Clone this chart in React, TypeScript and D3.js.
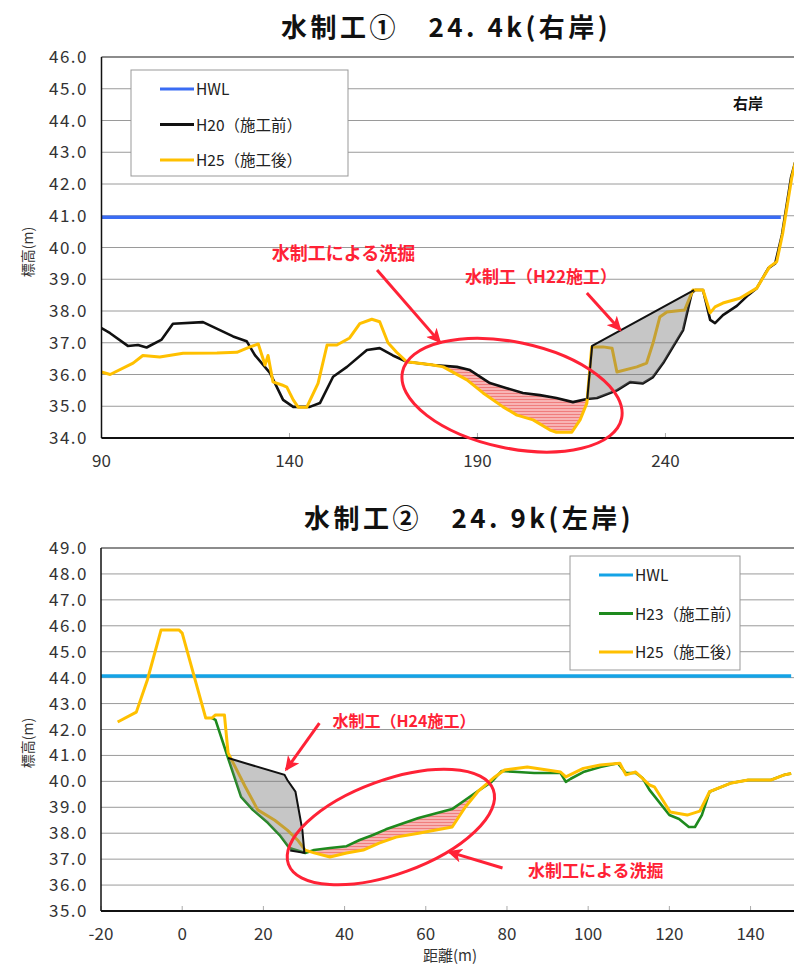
import React from "react";
import * as d3 from "d3";

// ---------- Chart 1 data (水制工① 24.4k 右岸) ----------
const topXTicks = [90, 140, 190, 240];
const topYTicks = [34, 35, 36, 37, 38, 39, 40, 41, 42, 43, 44, 45, 46];
const topHWL: [number, number][] = [[90, 40.95], [270.7, 40.95]];
const topH20: [number, number][] = [
  [90, 37.46], [92.3, 37.3], [97, 36.9], [99.7, 36.93], [102, 36.85], [106, 37.1], [109, 37.6],
  [117, 37.65], [125, 37.2], [128.6, 37.05], [130.8, 36.61], [134.8, 36.05], [138.3, 35.2],
  [141, 34.98], [145.4, 34.98], [148.1, 35.1], [151.6, 35.93], [155.3, 36.24], [160.6, 36.77],
  [164, 36.83], [167.5, 36.6], [171.2, 36.4], [178.2, 36.3], [184.5, 36.24], [188, 36.14],
  [193.3, 35.73], [197.8, 35.57], [202.1, 35.42], [206.6, 35.35], [211, 35.26], [215.4, 35.13],
  [219.1, 35.23], [221.8, 35.26], [227.1, 35.5], [230.6, 35.76], [234, 35.72], [236.7, 35.92],
  [239.4, 36.36], [242, 36.87], [244.7, 37.4], [247, 38.57], [247.9, 38.66], [250, 38.66],
  [251.9, 37.72], [253.2, 37.62], [255.3, 37.87], [259, 38.16], [262, 38.5], [264.3, 38.72],
  [267.4, 39.35], [269.2, 39.5], [271, 40.4], [273.4, 42.2], [275, 42.9],
];
const topH25: [number, number][] = [
  [90, 36.08], [92.3, 36.0], [98.4, 36.36], [101, 36.6], [105.5, 36.55], [111.7, 36.67],
  [120.7, 36.68], [126, 36.7], [129.5, 36.87], [131.7, 36.96], [133.5, 36.3], [134.3, 36.6],
  [135.6, 35.77], [138, 35.67], [139.3, 35.6], [141, 35.2], [142.3, 34.97], [144.6, 34.97],
  [147.6, 35.72], [150, 36.93], [152.6, 36.93], [156, 37.15], [158.7, 37.6], [161.9, 37.74],
  [164, 37.66], [166.2, 37.0], [168.5, 36.7], [171.2, 36.4], [178.2, 36.3], [180.9, 36.24],
  [187.2, 35.83], [191.5, 35.42], [196.8, 34.98], [200.5, 34.72], [204.8, 34.57], [209.3, 34.25],
  [211, 34.18], [215.1, 34.18], [217.3, 34.57], [219.1, 35.1], [220.4, 36.87], [223.4, 36.87],
  [225.8, 36.83], [227.1, 36.08], [232.4, 36.24], [235, 36.36], [236.7, 36.99], [238.5, 37.81],
  [240.4, 37.97], [245.1, 38.03], [247.3, 38.66], [250, 38.66], [251.9, 37.94], [253.2, 38.13],
  [255.3, 38.25], [259.8, 38.4], [264.3, 38.72], [267.7, 39.39], [269.6, 39.55], [271.2, 40.45],
  [273.6, 42.2], [275, 42.9],
];
const topWork: [number, number][] = [[219.2, 35.23], [220.5, 36.9], [247.6, 38.66]];
const topScourRange = [175, 219.5];

// ---------- Chart 2 data (水制工② 24.9k 左岸) ----------
const botXTicks = [-20, 0, 20, 40, 60, 80, 100, 120, 140];
const botYTicks = [35, 36, 37, 38, 39, 40, 41, 42, 43, 44, 45, 46, 47, 48, 49];
const botHWL: [number, number][] = [[-20, 44.06], [150, 44.06]];
const botH23: [number, number][] = [
  [7.3, 42.44], [8.2, 42.37], [11.3, 40.9], [14.5, 39.4], [17.4, 38.9], [21.1, 38.4], [24, 37.93],
  [26.4, 37.43], [28.8, 37.31], [30.3, 37.24], [32.5, 37.35], [36.4, 37.43], [40.5, 37.5],
  [43.7, 37.74], [47, 37.93], [50.2, 38.15], [58.2, 38.59], [66.5, 38.93], [69.7, 39.28],
  [72.6, 39.6], [76.2, 39.98], [78.7, 40.4], [82.6, 40.36], [86.7, 40.32], [93.2, 40.32],
  [94.5, 39.98], [95.7, 40.1], [98.8, 40.36], [103, 40.55], [107.3, 40.7], [109.3, 40.32],
  [111.7, 40.32], [113.4, 40.13], [115.1, 39.67], [120, 38.7], [122.4, 38.55], [124.8, 38.24],
  [126.3, 38.24], [128, 38.7], [129.9, 39.6], [135.3, 39.94], [139.4, 40.05], [145, 40.05],
  [148.3, 40.25], [150, 40.3],
];
const botH25: [number, number][] = [
  [-15.9, 42.29], [-11.3, 42.67], [-8.6, 43.9], [-5.2, 45.84], [-0.8, 45.84], [0, 45.72],
  [5.8, 42.44], [7.3, 42.44], [8.2, 42.56], [10.4, 42.56], [11.3, 41.1], [15.5, 39.8],
  [18.6, 38.9], [22.8, 38.5], [25.9, 38.12], [28.4, 37.74], [30.3, 37.35], [32.5, 37.24],
  [36.4, 37.08], [40.5, 37.24], [44.6, 37.35], [48.5, 37.62], [52.7, 37.85], [58.2, 38.0],
  [66.5, 38.24], [69.7, 39.0], [72.8, 39.6], [77, 40.17], [79.4, 40.44], [85, 40.55],
  [93.2, 40.36], [94.5, 40.17], [98.8, 40.5], [103, 40.63], [107.8, 40.7], [109.3, 40.25],
  [111.7, 40.36], [113, 40.17], [115.1, 39.86], [116.3, 39.79], [120.2, 38.82], [124.4, 38.7],
  [127.5, 38.85], [129.9, 39.6], [135.3, 39.94], [139.4, 40.05], [145, 40.05], [148.3, 40.25],
  [150, 40.3],
];
const botWork: [number, number][] = [
  [11.3, 40.9], [25.2, 40.25], [25.9, 40.05], [27.9, 39.6], [29.6, 38.12], [30.1, 37.24], [26.6, 37.33],
];
const botScourRange = [30.3, 74];

const FONT = "'Noto Sans CJK JP', 'Noto Sans', sans-serif";
const RED = "#ff2236";
const YELLOW = "#ffc000";

type Pt = [number, number];

function interp(series: Pt[]) {
  return d3.scaleLinear().domain(series.map((d) => d[0])).range(series.map((d) => d[1])).clamp(true);
}

function scourPts(upper: Pt[], lower: Pt[], range: number[]) {
  const xs = Array.from(new Set([...upper, ...lower].map((d) => d[0]).concat(range)))
    .filter((x) => x >= range[0] && x <= range[1])
    .sort((a, b) => a - b);
  const fu = interp(upper);
  const fl = interp(lower);
  return xs.map((x) => ({ x, y0: fu(x), y1: Math.min(fu(x), fl(x)) }));
}

function workPolygon(work: Pt[], base: Pt[]): Pt[] {
  const x0 = Math.min(work[0][0], work[work.length - 1][0]);
  const x1 = Math.max(work[0][0], work[work.length - 1][0]);
  const f = interp(base);
  const mids = base.filter((d) => d[0] > x0 && d[0] < x1).map((d) => d[0]);
  const lastX = work[work.length - 1][0];
  const firstX = work[0][0];
  let between = mids.map((x) => [x, f(x)] as Pt);
  if (lastX > firstX) between = between.reverse();
  return [...work, ...between];
}

interface Annot {
  text: string; tx: number; ty: number; size: number;
  arrow: [number, number, number, number];
}

function Chart(props: {
  id: string;
  title: string;
  titleX: number;
  xDomain: [number, number]; xRange: [number, number];
  yDomain: [number, number]; yRange: [number, number];
  xTicks: number[]; yTicks: number[];
  hwl: Pt[]; hwlColor: string;
  before: Pt[]; beforeColor: string; beforeLabel: string;
  after: Pt[];
  work: Pt[];
  scourRange: number[];
  legend: { x: number; y: number; w: number; h: number; gap: number };
  titleY: number; xLabelY: number; yLabelY: number;
  annots: Annot[];
  ellipse: { cx: number; cy: number; rx: number; ry: number; rot: number };
  bankLabel?: { text: string; x: number; y: number };
  xTitle?: string;
}) {
  const p = props;
  const x = d3.scaleLinear().domain(p.xDomain).range(p.xRange);
  const y = d3.scaleLinear().domain(p.yDomain).range(p.yRange);
  const line = d3.line<Pt>().x((d) => x(d[0])).y((d) => y(d[1]));
  const area = d3.area<{ x: number; y0: number; y1: number }>()
    .x((d) => x(d.x)).y0((d) => y(d.y0)).y1((d) => y(d.y1));
  const [L, R] = p.xRange;
  const [B, T] = p.yRange;
  const scour = scourPts(p.before, p.after, p.scourRange);
  const poly = workPolygon(p.work, p.before);
  const cx = x(p.ellipse.cx), cy = y(p.ellipse.cy);
  const lg = p.legend;
  return (
    <g>
      <defs>
        <clipPath id={p.id + "clip"}>
          <rect x={L} y={T} width={R - L} height={B - T} />
        </clipPath>
        <pattern id={p.id + "hatch"} width="4" height="3" patternUnits="userSpaceOnUse">
          <rect width="4" height="3" fill="#f8b4b4" />
          <line x1="0" x2="4" y1="0.5" y2="0.5" stroke="#ee6f6f" strokeWidth="0.8" />
        </pattern>
        <marker id={p.id + "arrow"} markerWidth="16" markerHeight="14" refX="13" refY="7"
          orient="auto" markerUnits="userSpaceOnUse">
          <path d="M0,0 L15,7 L0,14 L4,7 Z" fill={RED} />
        </marker>
      </defs>
      <text x={p.titleX} y={p.titleY} textAnchor="middle" fontFamily={FONT}
        fontWeight="bold" fontSize="26" letterSpacing="3.5" fill="#111">{p.title}</text>
      {p.yTicks.map((t) => (
        <line key={"g" + t} x1={L} x2={R} y1={y(t)} y2={y(t)} stroke={t === p.yDomain[1] ? "#666" : "#9a9a9a"}
          strokeWidth={t === p.yDomain[1] ? 1.5 : 1} />
      ))}
      {p.xTicks.map((t) => (
        <line key={"xt" + t} x1={x(t)} x2={x(t)} y1={B} y2={B - 5} stroke="#aaa" strokeWidth="1" />
      ))}
      {p.yTicks.map((t) => (
        <text key={"yl" + t} x={88} y={y(t) + 6} textAnchor="end" fontFamily={FONT} fontSize="17"
          letterSpacing="1.5" fill="#333">{t.toFixed(1)}</text>
      ))}
      {p.xTicks.map((t) => (
        <text key={"xl" + t} x={x(t)} y={p.xLabelY} textAnchor="middle" fontFamily={FONT} fontSize="17"
          fill="#333">{t}</text>
      ))}
      <text transform={`translate(33,${p.yLabelY}) rotate(-90)`} textAnchor="middle" fontFamily={FONT}
        fontSize="14" fill="#333">標高(m)</text>
      {p.xTitle && (
        <text x={450} y={961} textAnchor="middle" fontFamily={FONT} fontSize="15" fill="#333">{p.xTitle}</text>
      )}
      <g clipPath={`url(#${p.id}clip)`}>
        <path d={area(scour) || ""} fill={`url(#${p.id}hatch)`} />
        <line x1={x(p.hwl[0][0])} x2={x(p.hwl[1][0])} y1={y(p.hwl[0][1])} y2={y(p.hwl[1][1])}
          stroke={p.hwlColor} strokeWidth="3.5" />
        <path d={line(p.before) || ""} fill="none" stroke={p.beforeColor} strokeWidth="2.6" strokeLinejoin="round" />
        <path d={line(p.after) || ""} fill="none" stroke={YELLOW} strokeWidth="3" strokeLinejoin="round" />
        <path d={line(poly) + "Z"} fill="rgba(120,120,120,0.42)" stroke="none" />
        <path d={line(p.work) || ""} fill="none" stroke="#111" strokeWidth="2" />
      </g>
      <line x1={L} x2={L} y1={T} y2={B} stroke="#111" strokeWidth="1.5" />
      <line x1={L} x2={R} y1={B} y2={B} stroke="#111" strokeWidth="2" />
      <ellipse cx={cx} cy={cy} rx={p.ellipse.rx} ry={p.ellipse.ry}
        transform={`rotate(${p.ellipse.rot},${cx},${cy})`} fill="none" stroke={RED} strokeWidth="3" />
      {p.annots.map((a, i) => (
        <g key={"a" + i}>
          <text x={x(a.tx)} y={y(a.ty)} fontFamily={FONT} fontWeight="bold" fontSize={a.size} fill={RED}>{a.text}</text>
          <line x1={x(a.arrow[0])} y1={y(a.arrow[1])} x2={x(a.arrow[2])} y2={y(a.arrow[3])}
            stroke={RED} strokeWidth="3" markerEnd={`url(#${p.id}arrow)`} />
        </g>
      ))}
      {p.bankLabel && (
        <text x={p.bankLabel.x} y={p.bankLabel.y} textAnchor="middle" fontFamily={FONT} fontWeight="bold"
          fontSize="15" fill="#111">{p.bankLabel.text}</text>
      )}
      <rect x={lg.x} y={lg.y} width={lg.w} height={lg.h} fill="#fff" stroke="#999" strokeWidth="1" />
      {[
        { c: p.hwlColor, t: "HWL" },
        { c: p.beforeColor, t: p.beforeLabel },
        { c: YELLOW, t: "H25（施工後）" },
      ].map((e, i) => {
        const yy = lg.y + 19 + i * lg.gap;
        return (
          <g key={"lg" + i}>
            <line x1={lg.x + 29} x2={lg.x + 63} y1={yy} y2={yy} stroke={e.c} strokeWidth="3" />
            <text x={lg.x + 65} y={yy + 6} fontFamily={FONT} fontSize="15.5" fill="#222">{e.t}</text>
          </g>
        );
      })}
    </g>
  );
}

export default function App() {
  return (
    <svg width={794} height={965} style={{ position: "absolute", left: 0, top: 0, background: "#fff" }}
      xmlns="http://www.w3.org/2000/svg">
      <rect width={794} height={965} fill="#fff" />
      <Chart
        id="c1"
        title="水制工①　24. 4k(右岸)"
        titleX={446}
        xDomain={[90, 274.2]} xRange={[101.5, 794]}
        yDomain={[34, 46]} yRange={[438, 57]}
        xTicks={topXTicks} yTicks={topYTicks}
        hwl={topHWL} hwlColor="#3a6cf4"
        before={topH20} beforeColor="#111" beforeLabel="H20（施工前）"
        after={topH25}
        work={topWork}
        scourRange={topScourRange}
        legend={{ x: 131, y: 70, w: 217, h: 106, gap: 35.5 }}
        titleY={37} xLabelY={467} yLabelY={252}
        annots={[
          { text: "水制工による洗掘", tx: 135.3, ty: 39.62, size: 18, arrow: [163.3, 39.29, 180, 37.02] },
          { text: "水制工（H22施工）", tx: 186.7, ty: 38.87, size: 17, arrow: [219.1, 38.57, 228, 37.4] },
        ]}
        ellipse={{ cx: 199.2, cy: 35.35, rx: 112, ry: 53, rot: 12 }}
        bankLabel={{ text: "右岸", x: 748, y: 109 }}
      />
      <Chart
        id="c2"
        title="水制工②　24. 9k(左岸)"
        titleX={469}
        xDomain={[-20, 150.7]} xRange={[101, 794]}
        yDomain={[35, 49]} yRange={[911, 548]}
        xTicks={botXTicks} yTicks={botYTicks}
        hwl={botHWL} hwlColor="#14a3e6"
        before={botH23} beforeColor="#1e8a1e" beforeLabel="H23（施工前）"
        after={botH25}
        work={botWork}
        scourRange={botScourRange}
        legend={{ x: 570, y: 556, w: 170, h: 114, gap: 38.5 }}
        titleY={528} xLabelY={940} yLabelY={743}
        annots={[
          { text: "水制工（H24施工）", tx: 37.0, ty: 42.08, size: 16, arrow: [33.8, 42.25, 25.6, 40.45] },
          { text: "水制工による洗掘", tx: 85.2, ty: 36.3, size: 17, arrow: [78.9, 36.66, 65.7, 37.28] },
        ]}
        ellipse={{ cx: 51.4, cy: 38.24, rx: 109, ry: 47, rot: -20 }}
        xTitle="距離(m)"
      />
    </svg>
  );
}
